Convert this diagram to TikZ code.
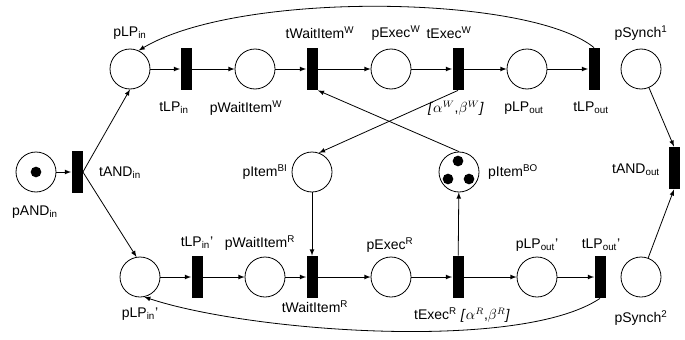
\documentclass[tikz,border=0pt]{standalone}
\usepackage{fontspec}
\setmainfont{Liberation Sans}
\usepackage{tikz}
\tikzset{>=latex}
\tikzset{place/.style={circle,draw,minimum size=30pt,inner sep=0pt},
  trans/.style={rectangle,fill=black,minimum width=8.25pt,minimum height=31.5pt,inner sep=0pt},
  token/.style={circle,fill=black,minimum size=8pt,inner sep=0pt},
  lbl/.style={inner sep=0pt}}

\begin{document}
\begin{tikzpicture}[x=0.75pt,y=-0.75pt,line width=0.6pt,font=\fontsize{10.5}{12}\selectfont]
\useasboundingbox (0,0) rectangle (685,339);
\node[place] (pANDin) at (36,172) {};
\node[token] (tokA) at (36,172) {};
\node[trans] (tANDin) at (77,172) {};
\node[place] (pLPin) at (130,69) {};
\node[trans] (tLPin) at (186,69) {};
\node[place] (pWaitW) at (255,69) {};
\node[trans] (tWaitW) at (312,69) {};
\node[place] (pExecW) at (391,69) {};
\node[trans] (tExecW) at (458,69) {};
\node[place] (pLPout) at (527,69) {};
\node[trans] (tLPout) at (594,69) {};
\node[place] (pSynchA) at (641,69) {};
\node[trans] (tANDout) at (674,168) {};
\node[place] (pItemBI) at (312,172) {};
\node[place] (pItemBO) at (459,172) {};
\node[token] (tokB) at (458,161) {};
\node[token] (tokC) at (448,179) {};
\node[token] (tokD) at (469,179) {};
\node[place] (pLPinB) at (140,277) {};
\node[trans] (tLPinB) at (197,277) {};
\node[place] (pWaitR) at (265,277) {};
\node[trans] (tWaitR) at (312,277) {};
\node[place] (pExecR) at (391,277) {};
\node[trans] (tExecR) at (458,277) {};
\node[place] (pLPoutB) at (537,277) {};
\node[trans] (tLPoutB) at (600,277) {};
\node[place] (pSynchB) at (641,277) {};

\node[lbl] (lpANDin) at (35,212) {pAND\textsubscript{in}};
\node[lbl] (ltANDin) at (120,173) {tAND\textsubscript{in}};
\node[lbl] (lpLPin) at (130,33) {pLP\textsubscript{in}};
\node[lbl] (ltLPin) at (174,108) {tLP\textsubscript{in}};
\node[lbl] (lpWaitW) at (246,108) {pWaitItem\textsuperscript{W}};
\node[lbl] (ltWaitW) at (320,33) {tWaitItem\textsuperscript{W}};
\node[lbl] (lpExecW) at (396,33) {pExec\textsuperscript{W}};
\node[lbl] (ltExecW) at (449,33) {tExec\textsuperscript{W}};
\node[lbl] (lgW) at (456,108) {\textit{[}$\alpha^{W}$,$\beta^{W}$\textit{]}};
\node[lbl] (lpLPout) at (524,108) {pLP\textsubscript{out}};
\node[lbl] (ltLPout) at (591,108) {tLP\textsubscript{out}};
\node[lbl] (lpSynchA) at (641,33) {pSynch\textsuperscript{1}};
\node[lbl] (ltANDout) at (636,170) {tAND\textsubscript{out}};
\node[lbl] (lpItemBI) at (265,172) {pItem\textsuperscript{BI}};
\node[lbl] (lpItemBO) at (513,172) {pItem\textsuperscript{BO}};
\node[lbl] (ltLPinB) at (197,243) {tLP\textsubscript{in}'};
\node[lbl] (lpWaitR) at (260,243) {pWaitItem\textsuperscript{R}};
\node[lbl] (lpLPinB) at (140,314) {pLP\textsubscript{in}'};
\node[lbl] (ltWaitR) at (315,307) {tWaitItem\textsuperscript{R}};
\node[lbl] (lpExecR) at (390,245) {pExec\textsuperscript{R}};
\node[lbl] (ltExecR) at (462,315) {tExec\textsuperscript{R} \textit{[}$\alpha^{R}$,$\beta^{R}$\textit{]}};
\node[lbl] (lpLPoutB) at (537,245) {pLP\textsubscript{out}'};
\node[lbl] (ltLPoutB) at (601,245) {tLP\textsubscript{out}'};
\node[lbl] (lpSynchB) at (641,318) {pSynch\textsuperscript{2}};

\draw[->] (pANDin) -- (tANDin);
\draw[->] (tANDin.east) -- (pLPin.south);
\draw[->] (tANDin.east) -- (pLPinB.100);
\draw[->] (pLPin) -- (tLPin);
\draw[->] (tLPin) -- (pWaitW);
\draw[->] (pWaitW) -- (tWaitW);
\draw[->] (tWaitW) -- (pExecW);
\draw[->] (pExecW) -- (tExecW);
\draw[->] (tExecW) -- (pLPout);
\draw[->] (pLPout) -- (tLPout);
\draw[->] (tLPout.north) .. controls (530,-5) and (240,-10) .. (pLPin.65);
\draw[->] (tExecW.south) -- (pItemBI.70);
\draw[->] (pItemBO.north) -- (tWaitW.south east);
\draw[->] (pItemBI) -- (tWaitR);
\draw[->] (tExecR) -- (pItemBO);
\draw[->] (pLPinB) -- (tLPinB);
\draw[->] (tLPinB) -- (pWaitR);
\draw[->] (pWaitR) -- (tWaitR);
\draw[->] (tWaitR) -- (pExecR);
\draw[->] (pExecR) -- (tExecR);
\draw[->] (tExecR) -- (pLPoutB);
\draw[->] (pLPoutB) -- (tLPoutB);
\draw[->] (tLPoutB.south) .. controls (520,352) and (250,332) .. (pLPinB.-78);
\draw[->] (pSynchA) -- (tANDout.north);
\draw[->] (pSynchB) -- (tANDout.south);
\end{tikzpicture}
\end{document}
